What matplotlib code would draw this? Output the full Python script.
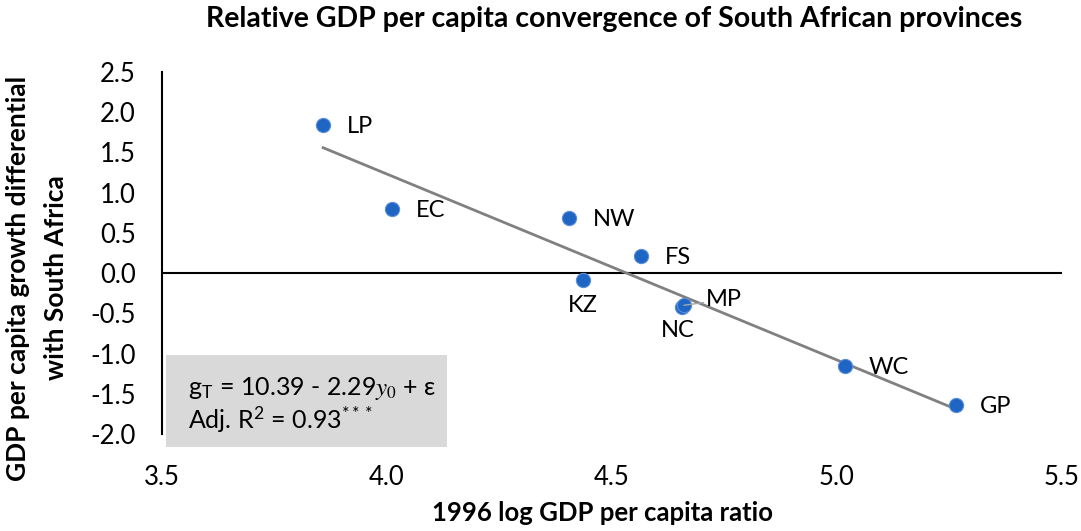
import numpy as np
import matplotlib
matplotlib.use("Agg")
import matplotlib.pyplot as plt
from matplotlib.patches import Rectangle

plt.rcParams['font.family'] = ['Lato', 'DejaVu Sans']
plt.rcParams['mathtext.fontset'] = 'stix'

provinces = ["LP", "EC", "NW", "FS", "KZ", "NC", "MP", "WC", "GP"]
log_gdp_1996 = [3.858, 4.011, 4.404, 4.564, 4.436, 4.656, 4.660, 5.018, 5.264]
growth_diff = [1.84, 0.80, 0.68, 0.21, -0.09, -0.42, -0.40, -1.16, -1.64]
x_ticks = [3.5, 4.0, 4.5, 5.0, 5.5]
y_ticks = [2.5, 2.0, 1.5, 1.0, 0.5, 0.0, -0.5, -1.0, -1.5, -2.0]

fig = plt.figure(figsize=(10.81, 5.31), dpi=100)
ax = fig.add_axes([0.1499, 0.1827, 0.9824 - 0.1499, 0.8644 - 0.1827])

x = np.array(log_gdp_1996)
y = np.array(growth_diff)

# trendline
coef = np.polyfit(x, y, 1)
xl = np.array([x.min(), x.max()])
ax.plot(xl, np.polyval(coef, xl), color='#808080', lw=2, zorder=2)

ax.axhline(0, color='black', lw=1.5, zorder=1)
ax.scatter(x, y, s=105, color='#1f66c4', edgecolors='#5b8fd6', linewidths=0.8, zorder=3)

LBL = 17
# labels: (dx pt, dy pt, ha, va)
offsets = {
    "LP": (17, -1, 'left', 'center'),
    "EC": (17, -1, 'left', 'center'),
    "NW": (17, -1, 'left', 'center'),
    "FS": (17, -1, 'left', 'center'),
    "KZ": (0, -18, 'center', 'center'),
    "NC": (-3, -17, 'center', 'center'),
    "MP": (16, 4, 'left', 'center'),
    "WC": (17, -1, 'left', 'center'),
    "GP": (17, -1, 'left', 'center'),
}
for name, xv, yv in zip(provinces, log_gdp_1996, growth_diff):
    dx, dy, ha, va = offsets[name]
    if name == "MP":
        ax.annotate(name, (xv, yv), xytext=(dx, dy), textcoords='offset points',
                    ha=ha, va=va, fontsize=LBL,
                    arrowprops=dict(arrowstyle='-', color='#a6a6a6', lw=1,
                                    shrinkA=0, shrinkB=0))
    else:
        ax.annotate(name, (xv, yv), xytext=(dx, dy), textcoords='offset points',
                    ha=ha, va=va, fontsize=LBL)

ax.set_xlim(3.5, 5.5)
ax.set_ylim(-2.0, 2.5)
ax.set_xticks(x_ticks)
ax.set_xticklabels([f"{v:.1f}" for v in x_ticks])
ax.set_yticks(y_ticks)
ax.set_yticklabels([f"{v:.1f}" for v in y_ticks])
ax.tick_params(axis='both', length=0, labelsize=18.5)
ax.tick_params(axis='y', pad=19)
ax.tick_params(axis='x', pad=22)
for s in ['top', 'right', 'bottom']:
    ax.spines[s].set_visible(False)
ax.spines['left'].set_linewidth(1.5)
ax.set_facecolor('none')

fig.text(602 / 1081, 1 - 513 / 531, "1996 log GDP per capita ratio", fontsize=18.5,
         fontweight='bold', ha='center', va='center')
fig.text(37 / 1081, 1 - 278 / 531, "GDP per capita growth differential\nwith South Africa",
         rotation=90, ha='center', va='center', fontsize=19, fontweight='bold',
         linespacing=1.65)
fig.text(614 / 1081, 1 - 19 / 531,
         "Relative GDP per capita convergence of South African provinces",
         fontsize=20.5, fontweight='bold', ha='center', va='center')

# equation box
box = Rectangle((166 / 1081, 1 - 447 / 531), (447 - 166) / 1081, (447 - 355) / 531,
                transform=fig.transFigure, facecolor='#d9d9d9', edgecolor='none', zorder=0)
fig.patches.append(box)
fig.text(188 / 1081, 1 - 388 / 531, r"g$_{\mathregular{T}}$ = 10.39 - 2.29$y_0$ + ε",
         fontsize=18, ha='left', va='center')
fig.text(188 / 1081, 1 - 420 / 531, r"Adj. R$^{\mathregular{2}}$ = 0.93$^{\mathregular{***}}$",
         fontsize=18, ha='left', va='center')

fig.savefig("out.png", dpi=100)
